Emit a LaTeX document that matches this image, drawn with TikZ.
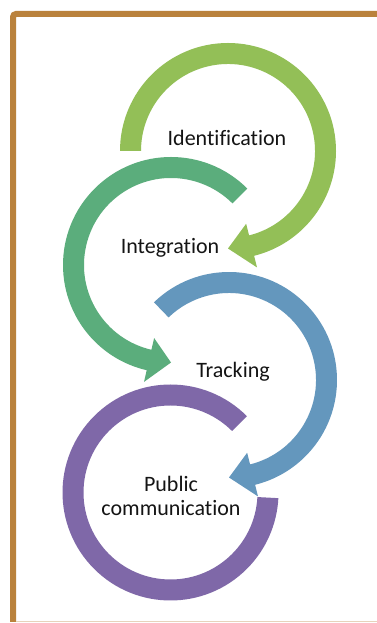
\documentclass[tikz,border=0pt]{standalone}
\usepackage{fontspec}
\setmainfont{Carlito}[Ligatures=NoCommon]
\usetikzlibrary{calc}
\definecolor{ringA}{HTML}{93BF57}
\definecolor{ringB}{HTML}{5BAD7C}
\definecolor{ringC}{HTML}{6497BD}
\definecolor{ringD}{HTML}{7F68A8}
\definecolor{frameC}{HTML}{BA823C}
\tikzset{
  lbl/.style={font=\fontsize{22}{24}\selectfont, text=black!92, align=center, inner sep=0pt},
}
% curved band with an arrow head: #1 centre, #2 start angle, #3 angle where head starts, #4 tip angle
\newcommand{\ringarrow}[5]{%
  \fill[#5] ($(#1)+(#2:108)$) arc[start angle=#2, end angle=#3, radius=108]
    -- ($(#1)+(#3:120)$) -- ($(#1)+(#4:97.5)$) -- ($(#1)+(#3:75)$)
    -- ($(#1)+(#3:87)$) arc[start angle=#3, end angle=#2, radius=87] -- cycle;}
\begin{document}
\begin{tikzpicture}[x=1pt,y=1pt]
\useasboundingbox (0,0) rectangle (377,623);
\fill[white] (0,0) rectangle (377,623);
% frame
\draw[frameC, line width=6pt, rounded corners=3pt] (13,1) -- (13,609) -- (380,609);
\draw[frameC!35, line width=1pt] (16,1) -- (377,1);

\coordinate (cA) at (228,472);
\coordinate (cB) at (171,358);
\coordinate (cC) at (229,243);
\coordinate (cD) at (170.5,130.5);

\ringarrow{cA}{180}{-76}{-90}{ringA}
\ringarrow{cB}{45}{257}{270}{ringB}
\ringarrow{cC}{134}{-76}{-90}{ringC}
\fill[ringD] ($(cD)+(45:108)$) arc[start angle=45, end angle=357, radius=108]
  -- ($(cD)+(357:87)$) arc[start angle=357, end angle=45, radius=87] -- cycle;

\node[lbl] (tA) at (227,485) {Identification};
\node[lbl] (tB) at (170,375) {Integration};
\node[lbl] (tC) at (233,251) {Tracking};
\node[lbl] (tD) at (171,127) {Public\\communication};
\end{tikzpicture}
\end{document}
